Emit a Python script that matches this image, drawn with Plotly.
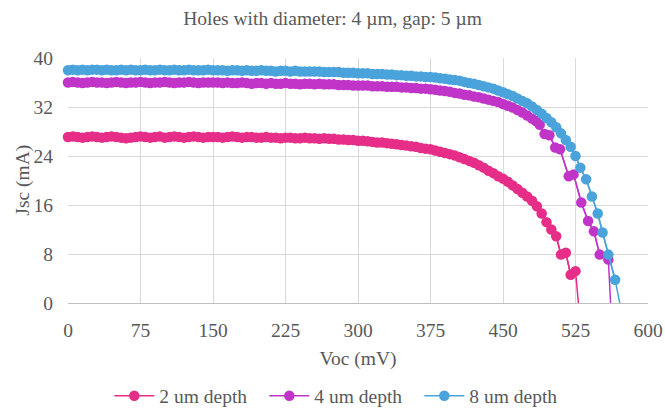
import plotly.graph_objects as go

# Shared voltage sweep (mV) for the flat part of every curve
voc_sweep = [0, 5, 10, 15, 20, 25, 30, 35, 40, 45, 50, 55, 60, 65, 70, 75, 80, 85, 90, 95,
             100, 105, 110, 115, 120, 125, 130, 135, 140, 145, 150, 155, 160, 165, 170, 175,
             180, 185, 190, 195, 200, 205, 210, 215, 220, 225, 230, 235, 240, 245, 250, 255,
             260, 265, 270, 275, 280, 285, 290, 295, 300, 305, 310, 315, 320, 325, 330, 335,
             340, 345, 350, 355, 360, 365, 370, 375, 380, 385, 390, 395, 400, 405, 410, 415,
             420, 425, 430, 435, 440, 445, 450, 455, 460, 465, 470, 475]

# 2 um depth
voc_2um_tail = [480, 485, 490, 495, 500, 505, 510, 515, 520, 525, 530]
jsc_2um = [27.1, 27.2, 27.1, 27.0, 27.1, 27.2, 27.1, 27.0, 27.1, 27.2, 27.1, 27.0, 26.9, 27.0, 27.1, 27.2,
           27.1, 27.0, 27.1, 27.2, 27.0, 27.1, 27.2, 27.1, 27.0, 27.1, 27.2, 27.1, 27.0, 27.1, 27.1,
           27.1, 27.0, 27.1, 27.2, 27.1, 27.0, 27.1, 27.1, 27.0, 27.0, 27.1, 27.0, 27.0, 26.9, 27.0,
           27.0, 26.9, 26.9, 27.0, 26.9,
           26.9, 26.8, 26.9, 26.8, 26.8, 26.7, 26.7, 26.6, 26.6, 26.5,
           26.5, 26.4, 26.3, 26.2, 26.2, 26.1, 26.0, 25.9, 25.8, 25.7,
           25.6, 25.5, 25.3, 25.2, 25.1, 24.9, 24.7, 24.5, 24.3, 24.1,
           23.8, 23.5, 23.2, 22.9, 22.5, 22.1, 21.6, 21.2, 20.7, 20.3,
           19.8, 19.2, 18.6, 18.0, 17.4,
           16.7, 15.8, 14.6, 13.2, 12.0, 10.9, 7.9, 8.2, 4.6, 5.2, -3.5]

# 4 um depth
voc_4um_tail = [480, 484, 488, 493, 498, 504, 509, 518, 523, 531, 538, 544, 550, 559, 563]
jsc_4um = [36.0, 36.1, 36.0, 35.9, 36.0, 36.1, 36.0, 36.0, 35.9, 36.0, 36.1, 36.0, 35.9, 36.0, 36.0, 36.1,
           36.0, 35.9, 36.0, 36.0, 36.1, 36.0, 35.9, 36.0, 36.0, 36.1, 36.0, 35.9, 36.0, 36.0, 36.0,
           36.0, 35.9, 36.0, 35.9, 35.9, 36.0, 35.9, 35.8, 35.9, 35.9, 35.8, 35.9, 35.8, 35.8, 35.9,
           35.8, 35.8, 35.7, 35.8, 35.8,
           35.7, 35.8, 35.7, 35.7, 35.7, 35.6, 35.6, 35.6, 35.5, 35.5,
           35.5, 35.5, 35.4, 35.4, 35.4, 35.3, 35.3, 35.3, 35.2, 35.2,
           35.1, 35.1, 35.0, 35.0, 34.9, 34.8, 34.7, 34.6, 34.5, 34.3,
           34.2, 34.0, 33.9, 33.7, 33.6, 33.4, 33.2, 33.0, 32.8, 32.5,
           32.2, 31.9, 31.5, 31.1, 30.6,
           30.1, 29.7, 29.1, 27.6, 27.4, 25.4, 25.1, 20.7, 21.0, 16.4, 13.4, 11.7, 7.9, 7.1, -5.3]

# 8 um depth
voc_8um_tail = [480, 485, 490, 495, 500, 505, 510, 515, 520, 525, 530, 536, 542, 548, 553, 559, 566, 573]
jsc_8um = [38.0, 38.1, 38.0, 38.1, 38.0, 38.1, 38.1, 38.0, 38.1, 38.0, 38.0, 38.1, 38.0, 38.1, 38.0, 38.0,
           38.1, 38.0, 38.0, 38.1, 38.0, 38.0, 38.1, 38.0, 38.0, 38.1, 38.0, 38.0, 38.0, 38.1, 38.0,
           38.0, 38.0, 37.9, 38.0, 38.0, 37.9, 38.0, 37.9, 37.9, 38.0, 37.9, 37.9, 37.8, 37.9, 37.9,
           37.8, 37.9, 37.8, 37.8, 37.8,
           37.8, 37.8, 37.7, 37.7, 37.7, 37.7, 37.6, 37.6, 37.6, 37.5,
           37.5, 37.5, 37.4, 37.4, 37.4, 37.3, 37.3, 37.2, 37.2, 37.1,
           37.1, 37.0, 37.0, 36.9, 36.9, 36.8, 36.7, 36.6, 36.5, 36.4,
           36.3, 36.1, 35.9, 35.8, 35.6, 35.4, 35.2, 35.0, 34.7, 34.4,
           34.1, 33.8, 33.4, 33.0, 32.6,
           32.1, 31.5, 30.9, 30.2, 29.5, 28.7, 27.7, 26.6, 25.5, 24.0, 22.1, 20.2, 17.4, 14.6, 11.5,
           7.9, 3.8, -1.8]

series_names = ["2 um depth", "4 um depth", "8 um depth"]
x_ticks = [0, 75, 150, 225, 300, 375, 450, 525, 600]
y_ticks = [0, 8, 16, 24, 32, 40]

colors = ["#E62D87", "#C034C8", "#4AA3DB"]
xs = [voc_sweep + voc_2um_tail, voc_sweep + voc_4um_tail, voc_sweep + voc_8um_tail]
ys = [jsc_2um, jsc_4um, jsc_8um]

font_family = "Liberation Serif, Times New Roman, serif"
text_color = "#595959"
fs = 19.5

fig = go.Figure()
for name, x, y, c in zip(series_names, xs, ys, colors):
    # full line, clipped to the plot area (runs down through the x axis)
    fig.add_trace(go.Scatter(
        x=x, y=y, mode="lines", line=dict(color=c, width=1.5),
        showlegend=False, hoverinfo="skip", cliponaxis=True,
    ))
    # visible points, markers allowed to overhang the axes
    pts = [(a, b) for a, b in zip(x, y) if b >= 0]
    fig.add_trace(go.Scatter(
        x=[p[0] for p in pts], y=[p[1] for p in pts], name=name,
        mode="lines+markers", line=dict(color=c, width=1.5),
        marker=dict(color=c, size=10.5), cliponaxis=False,
    ))

fig.update_layout(
    width=665, height=412,
    margin=dict(l=68, r=17, t=58, b=109, autoexpand=False),
    paper_bgcolor="white", plot_bgcolor="white",
    font=dict(family=font_family, size=fs, color=text_color),
    title=dict(text="Holes with diameter: 4 µm, gap: 5 µm", x=0.5, xanchor="center",
               y=0.957, yanchor="middle", font=dict(size=fs, color=text_color)),
    showlegend=True,
    legend=dict(orientation="h", x=0.514, xref="container", xanchor="center",
                y=-0.38, yanchor="middle",
                font=dict(size=fs, color=text_color), itemwidth=40,
                entrywidth=100, entrywidthmode="pixels",
                traceorder="normal"),
    annotations=[dict(text="Jsc (mA)", textangle=-90, xref="paper", yref="paper",
                      x=-0.079, y=0.5, xanchor="center", yanchor="middle",
                      showarrow=False, font=dict(size=fs, color=text_color))],
)
fig.update_xaxes(
    range=[0, 600], tickvals=x_ticks, ticktext=[str(v) for v in x_ticks],
    showgrid=True, gridcolor="#D9D9D9", gridwidth=1,
    showline=True, linecolor="#BFBFBF", linewidth=1,
    zeroline=False, ticks="", ticklen=0, ticklabelstandoff=10, automargin=False,
    title=dict(text="Voc (mV)", standoff=10, font=dict(size=fs, color=text_color)),
    tickfont=dict(size=fs, color=text_color),
)
fig.update_yaxes(
    range=[0, 40], tickvals=y_ticks, ticktext=[str(v) for v in y_ticks],
    showgrid=True, gridcolor="#D9D9D9", gridwidth=1,
    showline=False, zeroline=False, ticks="", ticklabelstandoff=14, automargin=False,
    tickfont=dict(size=fs, color=text_color),
)

fig.write_html("out.html", config={"displayModeBar": False},
               post_script="document.body.style.margin='0';document.body.style.padding='0';")
